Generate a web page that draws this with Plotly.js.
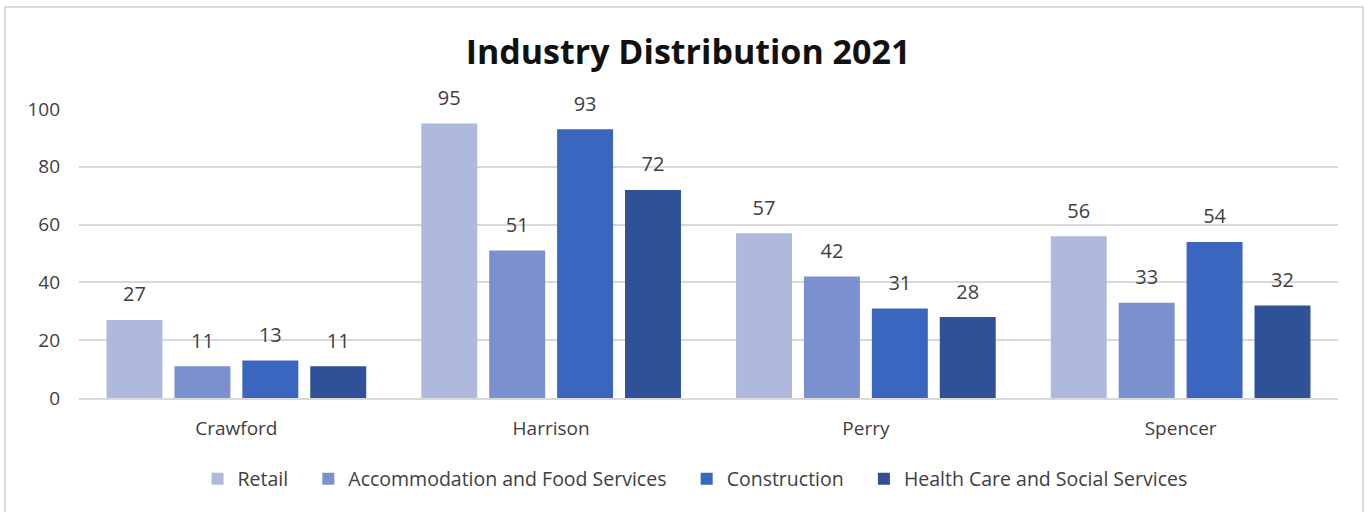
<!DOCTYPE html>
<html>
<head>
<meta charset="utf-8">
<script src="https://cdn.plot.ly/plotly-3.0.1.min.js"></script>
<style>
  html, body { margin: 0; padding: 0; background: #ffffff; }
  #frame { position: absolute; left: 4px; top: 6px; width: 1360px; height: 520px; border: 2px solid #d9d9d9; box-sizing: border-box; }
  #chart { position: absolute; left: 0; top: 0; width: 1372px; height: 512px; }
</style>
</head>
<body>
<div id="frame"></div>
<div id="chart"></div>
<script>
const counties = ["Crawford", "Harrison", "Perry", "Spencer"];
const seriesNames = ["Retail", "Accommodation and Food Services", "Construction", "Health Care and Social Services"];
const retail = [27, 95, 57, 56];
const accommodation = [11, 51, 42, 33];
const construction = [13, 93, 31, 54];
const healthCare = [11, 72, 28, 32];
const yTicks = [0, 20, 40, 60, 80, 100];

const seriesValues = [retail, accommodation, construction, healthCare];
const colors = ["#aeb9dd", "#7a90cf", "#3b66bf", "#2f5197"];
const fontFamily = "'Open Sans', 'Noto Sans', sans-serif";
const textColor = "#404040";
const GAP = 0.137;

const traces = [];
seriesValues.forEach((vals, i) => {
  traces.push({
    type: "bar",
    name: seriesNames[i] + (i < seriesValues.length - 1 ? "\u00a0\u00a0\u00a0" : ""),
    x: counties,
    y: vals,
    offsetgroup: String(i),
    alignmentgroup: "a",
    marker: { color: colors[i], line: { width: 0 } },
    hoverinfo: "x+y+name"
  });
});
seriesValues.forEach((vals, i) => {
  traces.push({
    type: "scatter",
    mode: "markers+text",
    x: counties,
    y: vals,
    text: vals.map(String),
    textposition: "top center",
    offsetgroup: String(i),
    alignmentgroup: "a",
    marker: { size: 20, opacity: 0, color: colors[i] },
    textfont: { family: fontFamily, size: 20, color: textColor },
    showlegend: false,
    hoverinfo: "skip",
    cliponaxis: false
  });
});

const layout = {
  width: 1372,
  height: 512,
  margin: { l: 79, r: 34, t: 109, b: 114 },
  paper_bgcolor: "rgba(0,0,0,0)",
  plot_bgcolor: "rgba(0,0,0,0)",
  barmode: "group",
  scattermode: "group",
  bargap: GAP,
  scattergap: GAP,
  bargroupgap: 0.176,
  title: {
    text: "<b>Industry Distribution 2021</b>",
    font: { family: fontFamily, size: 34, color: "#111111" },
    x: 688 / 1372, xref: "container", xanchor: "center",
    y: 1 - 52 / 512, yref: "container", yanchor: "middle"
  },
  xaxis: {
    type: "category",
    showgrid: false,
    showline: true,
    linecolor: "#d9d9d9",
    linewidth: 2,
    ticks: "",
    ticklabelstandoff: 12,
    tickfont: { family: fontFamily, size: 19, color: textColor }
  },
  yaxis: {
    range: [0, 100],
    tickvals: yTicks,
    ticktext: yTicks.map(String),
    showgrid: true,
    gridcolor: "#d9d9d9",
    gridwidth: 2,
    zeroline: false,
    showline: false,
    ticks: "",
    ticklabelstandoff: 18,
    tickfont: { family: fontFamily, size: 19, color: textColor }
  },
  legend: {
    orientation: "h",
    x: 695 / 1372, xanchor: "center", xref: "container",
    y: 1 - 479 / 512, yref: "container", yanchor: "middle",
    font: { family: fontFamily, size: 19.5, color: textColor },
    itemsizing: "constant"
  },
  showlegend: true
};

Plotly.newPlot("chart", traces, layout, { displayModeBar: false, staticPlot: true });
</script>
</body>
</html>
